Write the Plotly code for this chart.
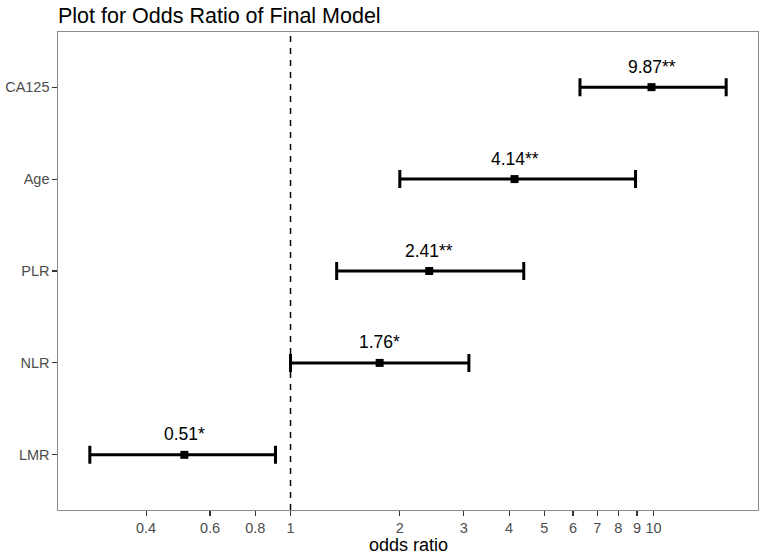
import math
import plotly.graph_objects as go

# ---- data ----
variables = ["LMR", "NLR", "PLR", "Age", "CA125"]
odds_ratio = [0.51, 1.76, 2.41, 4.14, 9.87]
ci_lower = [0.280, 1.00, 1.34, 2.00, 6.27]
ci_upper = [0.909, 3.10, 4.39, 8.92, 15.85]
labels = ["0.51*", "1.76*", "2.41**", "4.14**", "9.87**"]
tick_vals = [0.4, 0.6, 0.8, 1, 2, 3, 4, 5, 6, 7, 8, 9, 10]
tick_text = ["0.4", "0.6", "0.8", "1", "2", "3", "4", "5", "6", "7", "8", "9", "10"]

FONT = "Liberation Sans, Arial, Helvetica, sans-serif"

W, H = 762, 558
ml, mr, mt, mb = 58, 4, 32, 48
plot_h = H - mt - mb

# ggplot-like 5% expansion on log scale
lo = math.log10(min(ci_lower))
hi = math.log10(max(ci_upper))
pad = 0.05 * (hi - lo)
xrange = [lo - pad, hi + pad]

fig = go.Figure()
fig.add_trace(go.Scatter(
    x=odds_ratio,
    y=variables,
    mode="markers",
    marker=dict(symbol="square", size=8, color="black"),
    error_x=dict(
        type="data",
        symmetric=False,
        array=[u - o for u, o in zip(ci_upper, odds_ratio)],
        arrayminus=[o - l for o, l in zip(odds_ratio, ci_lower)],
        color="black",
        thickness=3,
        width=9,
    ),
    showlegend=False,
    hoverinfo="skip",
))

for v, o, t in zip(variables, odds_ratio, labels):
    fig.add_annotation(
        x=math.log10(o), y=v, text=t, showarrow=False,
        yshift=20.5, xanchor="center", yanchor="middle",
        font=dict(family=FONT, size=17.5, color="black"),
    )

# x-axis title
fig.add_annotation(
    x=0.5, xref="paper", y=-(mb - 1) / plot_h, yref="paper",
    text="odds ratio", showarrow=False, xanchor="center", yanchor="bottom",
    font=dict(family=FONT, size=18, color="black"),
)

fig.add_shape(
    type="line", xref="x", yref="paper", x0=1, x1=1, y0=0, y1=1,
    line=dict(color="black", width=1.5, dash="6px,6px"),
)

fig.update_layout(
    width=W, height=H,
    margin=dict(l=ml, r=mr, t=mt, b=mb),
    paper_bgcolor="white",
    plot_bgcolor="white",
    font=dict(family=FONT),
    title=dict(
        text="Plot for Odds Ratio of Final Model",
        x=ml / W, xref="container", xanchor="left",
        y=1 - 15.5 / H, yref="container", yanchor="middle",
        font=dict(family=FONT, size=21.5, color="black"),
    ),
    xaxis=dict(
        type="log",
        range=xrange,
        tickvals=tick_vals,
        ticktext=tick_text,
        ticks="outside", ticklen=4.5, tickwidth=1.1, tickcolor="#333333",
        tickfont=dict(family=FONT, size=14.5, color="#4D4D4D"),
        showgrid=False, zeroline=False,
        showline=True, linecolor="#8a8a8a", linewidth=1.1, mirror=True,
    ),
    yaxis=dict(
        type="category",
        categoryorder="array", categoryarray=variables,
        range=[-0.6, len(variables) - 0.4],
        ticks="outside", ticklen=4.5, tickwidth=1.1, tickcolor="#333333",
        tickfont=dict(family=FONT, size=14.5, color="#4D4D4D"),
        showgrid=False, zeroline=False,
        showline=True, linecolor="#8a8a8a", linewidth=1.1, mirror=True,
    ),
)

fig.write_html(
    "out.html",
    config={"displayModeBar": False, "staticPlot": True},
    post_script="document.body.style.margin='0';document.body.style.overflow='hidden';",
)
